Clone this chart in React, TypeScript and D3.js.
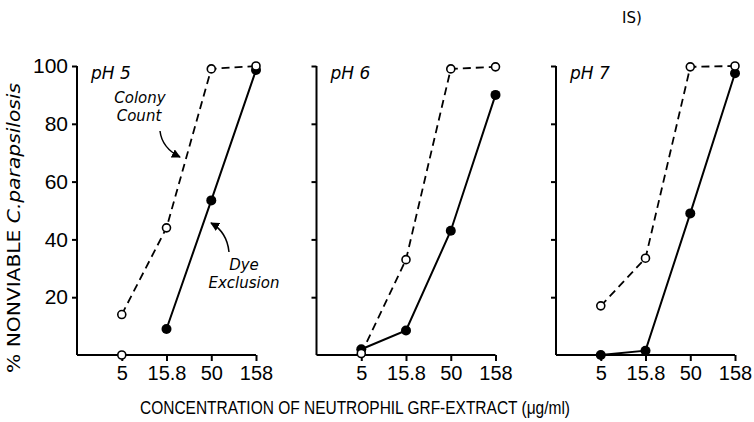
import * as d3 from "d3";
import { useEffect, useRef } from "react";

// concentrations of neutrophil GRF-extract (ug/ml), log spaced
const concentrations = [5, 15.8, 50, 158];
const tickLabels = ["5", "15.8", "50", "158"];
const yTicks = [20, 40, 60, 80, 100];
const panelTitles = ["pH 5", "pH 6", "pH 7"];

// % nonviable
const colonyCount: (number | null)[][] = [
  [14, 44, 99, 100],
  [0.5, 33, 99, 99.7],
  [17, 33.5, 99.7, 100],
];
const dyeExclusion: (number | null)[][] = [
  [null, 9, 53.5, 98.6],
  [2, 8.5, 43, 90],
  [0, 1.5, 49, 97.5],
];
// lone open point on the baseline of the pH 5 panel
const extraOpen: (number | null)[][] = [
  [0, null, null, null],
  [null, null, null, null],
  [null, null, null, null],
];

const FONT = "'DejaVu Sans', 'Liberation Sans', sans-serif";
const NUM_FONT = "'Liberation Sans', Arial, sans-serif";

export default function App() {
  const ref = useRef(null);

  useEffect(() => {
    if (!ref.current) return;
    const svg = d3.select(ref.current);
    svg.selectAll("*").remove();

    const width = 754;
    const height = 422;
    const panelLeft = [77, 316.5, 556];
    const panelW = 179;
    const top = 66;
    const bottom = 355;

    svg.attr("width", width).attr("height", height);

    const defs = svg.append("defs");
    defs
      .append("marker")
      .attr("id", "arrow")
      .attr("viewBox", "0 0 10 10")
      .attr("refX", 9)
      .attr("refY", 5)
      .attr("markerWidth", 9)
      .attr("markerHeight", 9)
      .attr("markerUnits", "userSpaceOnUse")
      .attr("orient", "auto")
      .append("path")
      .attr("d", "M0,0 L10,5 L0,10 Z")
      .attr("fill", "#000");

    const x = d3.scaleLog().domain([1.58, 158]).range([0, panelW]);
    const y = d3.scaleLinear().domain([0, 100]).range([bottom - top, 0]);

    panelTitles.forEach((title, p) => {
      const g = svg
        .append("g")
        .attr("transform", `translate(${panelLeft[p]},${top})`);

      // axes
      const yAxis = d3
        .axisLeft(y)
        .tickValues(yTicks)
        .tickSize(5)
        .tickPadding(4)
        .tickFormat(p === 0 ? (d: any) => `${d}` : () => "");
      const ya = g.append("g").call(yAxis);
      ya.select(".domain").attr("d", `M0,${y(100)}V${y(0)}`);
      ya.selectAll("line, path").attr("stroke", "#000").attr("stroke-width", 2);
      ya.selectAll("text")
        .attr("font-family", NUM_FONT)
        .attr("font-size", 21)
        .attr("fill", "#000");

      const xAxis = d3
        .axisBottom(x)
        .tickValues(concentrations)
        .tickSize(6)
        .tickPadding(5)
        .tickFormat((d: any, i: number) => tickLabels[i]);
      const xa = g.append("g").attr("transform", `translate(0,${y(0)})`).call(xAxis);
      xa.select(".domain").attr("d", `M0,0H${x(158)}`);
      xa.selectAll("line, path").attr("stroke", "#000").attr("stroke-width", 2);
      xa.selectAll("text")
        .attr("font-family", NUM_FONT)
        .attr("font-size", 20)
        .attr("fill", "#000");

      // panel title
      g.append("text")
        .attr("x", 14)
        .attr("y", 13)
        .attr("font-family", FONT)
        .attr("font-style", "italic")
        .attr("font-size", 17)
        .text(title);

      const line = d3
        .line<number | null>()
        .defined((d) => d !== null)
        .x((d, i) => x(concentrations[i]))
        .y((d) => y(d as number));

      g.append("path")
        .attr("d", line(colonyCount[p]))
        .attr("fill", "none")
        .attr("stroke", "#000")
        .attr("stroke-width", 1.8)
        .attr("stroke-dasharray", "8,5");

      g.append("path")
        .attr("d", line(dyeExclusion[p]))
        .attr("fill", "none")
        .attr("stroke", "#000")
        .attr("stroke-width", 2);

      const pts = (vals: (number | null)[]) =>
        vals
          .map((v, i) => ({ v, c: concentrations[i] }))
          .filter((d) => d.v !== null);

      g.selectAll(".dye")
        .data(pts(dyeExclusion[p]))
        .join("circle")
        .attr("cx", (d) => x(d.c))
        .attr("cy", (d) => y(d.v as number))
        .attr("r", 5)
        .attr("fill", "#000");

      g.selectAll(".open")
        .data(pts(colonyCount[p]).concat(pts(extraOpen[p])))
        .join("circle")
        .attr("cx", (d) => x(d.c))
        .attr("cy", (d) => y(d.v as number))
        .attr("r", 4)
        .attr("fill", "#fff")
        .attr("stroke", "#000")
        .attr("stroke-width", 1.6);
    });

    // annotations, pH 5 panel
    const note = (t: string, xx: number, yy: number) =>
      svg
        .append("text")
        .attr("x", xx)
        .attr("y", yy)
        .attr("text-anchor", "middle")
        .attr("font-family", FONT)
        .attr("font-style", "italic")
        .attr("font-size", 15)
        .text(t);
    note("Colony", 140, 103);
    note("Count", 139, 121);
    note("Dye", 244, 270);
    note("Exclusion", 244, 288);

    svg
      .append("path")
      .attr("d", "M160,131 Q162,148 180,157")
      .attr("fill", "none")
      .attr("stroke", "#000")
      .attr("stroke-width", 1.5)
      .attr("marker-end", "url(#arrow)");
    svg
      .append("path")
      .attr("d", "M229,252 Q227,232 211,223")
      .attr("fill", "none")
      .attr("stroke", "#000")
      .attr("stroke-width", 1.5)
      .attr("marker-end", "url(#arrow)");

    // cropped title fragment at top
    svg
      .append("text")
      .attr("x", 622)
      .attr("y", 23)
      .attr("font-family", FONT)
      .attr("font-size", 15)
      .text("IS)");

    // y axis title
    const yt = svg
      .append("text")
      .attr("transform", "translate(20,228) rotate(-90)")
      .attr("text-anchor", "middle")
      .attr("font-family", FONT)
      .attr("font-size", 18)
      .attr("textLength", 290)
      .attr("lengthAdjust", "spacingAndGlyphs");
    yt.append("tspan").text("% NONVIABLE ");
    yt.append("tspan").attr("font-style", "italic").text("C.parapsilosis");

    // x axis title
    svg
      .append("text")
      .attr("x", 355)
      .attr("y", 414)
      .attr("text-anchor", "middle")
      .attr("font-family", NUM_FONT)
      .attr("font-size", 18)
      .attr("textLength", 430)
      .attr("lengthAdjust", "spacingAndGlyphs")
      .text("CONCENTRATION OF NEUTROPHIL GRF-EXTRACT (\u03bcg/ml)");
  }, []);

  return (
    <svg
      ref={ref}
      style={{ position: "absolute", left: 0, top: 0, background: "#fff" }}
    />
  );
}
